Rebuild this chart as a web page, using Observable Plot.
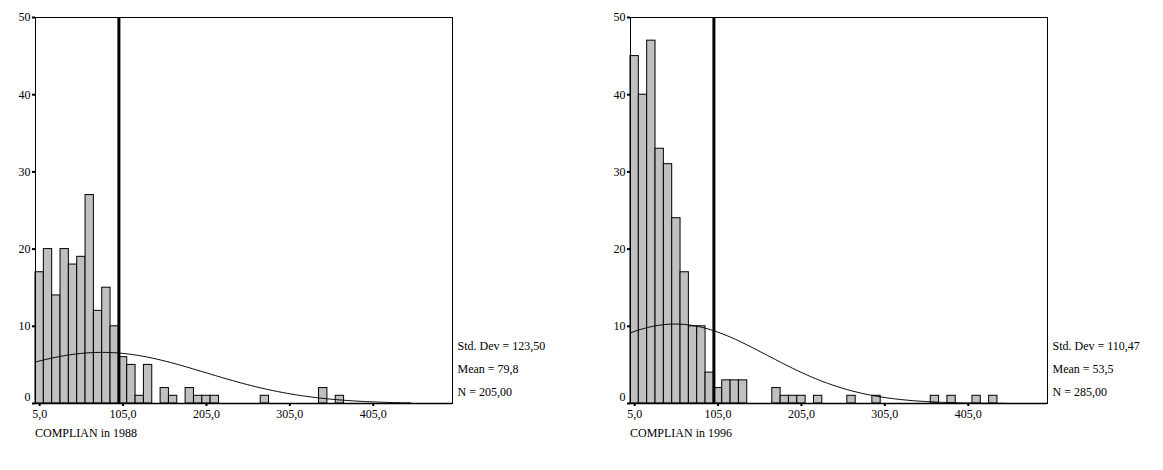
<!DOCTYPE html>
<html>
<head>
<meta charset="utf-8">
<script src="https://cdn.jsdelivr.net/npm/d3@7"></script>
<script src="https://cdn.jsdelivr.net/npm/@observablehq/plot@0.6"></script>
<style>
  body { margin: 0; background: #fff; font-family: "Liberation Serif", "DejaVu Serif", serif; }
  #wrap { position: relative; width: 1163px; height: 470px; display: flex; }
  .panel { position: relative; }
  .panel svg { display: block; }
  .caption { position: absolute; top: 426px; font-size: 12px; color: #000; white-space: nowrap; }
</style>
</head>
<body>
<div id="wrap"></div>
<script>
// Bin width and histogram bins (bin start values) with their counts
const binWidth = 10;

const bins1988 = [0, 10, 20, 30, 40, 50, 60, 70, 80, 90, 100, 110, 120, 130, 150, 160, 180, 190, 200, 210, 270, 340, 360];
const counts1988 = [17, 20, 14, 20, 18, 19, 27, 12, 15, 10, 6, 5, 1, 5, 2, 1, 2, 1, 1, 1, 1, 2, 1];

const bins1996 = [0, 10, 20, 30, 40, 50, 60, 70, 80, 90, 100, 110, 120, 130, 170, 180, 190, 200, 220, 260, 290, 360, 380, 410, 430];
const counts1996 = [45, 40, 47, 33, 31, 24, 17, 10, 10, 4, 2, 3, 3, 3, 2, 1, 1, 1, 1, 1, 1, 1, 1, 1, 1];

// Summary statistics printed beside each histogram
const stats1988 = { sd: 123.50, mean: 79.8, n: 205 };
const stats1996 = { sd: 110.47, mean: 53.5, n: 285 };

// Axis ticks, reference line and titles
const xTicks = [5, 105, 205, 305, 405];
const yTicks = [0, 10, 20, 30, 40, 50];
const xDomain = [0, 500];
const yDomain = [0, 50];
const refLine = [100];
const curveRange = [0, 450];
const titles = ["COMPLIAN in 1988", "COMPLIAN in 1996"];

const comma = (v, d) => v.toFixed(d).replace(".", ",");
const serif = "'Liberation Serif', 'DejaVu Serif', serif";

// Fitted normal curve scaled to counts per bin
function normalCurve(s) {
  const pts = [];
  for (let x = curveRange[0]; x <= curveRange[1]; x += 2) {
    const z = (x - s.mean) / s.sd;
    pts.push({ x, y: s.n * binWidth / (s.sd * Math.sqrt(2 * Math.PI)) * Math.exp(-0.5 * z * z) });
  }
  return pts;
}

function histogram(bins, counts, s, opts) {
  const rows = bins.map((b, i) => ({ start: b, count: counts[i] }));
  const statText = `Std. Dev = ${comma(s.sd, 2)}\nMean = ${comma(s.mean, 1)}\nN = ${comma(s.n, 2)}`;
  return Plot.plot({
    width: opts.width,
    height: 424,
    marginLeft: opts.marginLeft,
    marginRight: opts.width - opts.marginLeft - 417,
    marginTop: 17,
    marginBottom: 21,
    style: { fontFamily: serif, fontSize: "12px", color: "#000", background: "#fff" },
    x: { domain: xDomain },
    y: { domain: yDomain },
    marks: [
      Plot.rectY(rows, { x1: "start", x2: d => d.start + binWidth, y: "count", fill: "#c0c0c0", stroke: "#000", strokeWidth: 1 }),
      Plot.line(normalCurve(s), { x: "x", y: "y", stroke: "#000", strokeWidth: 1 }),
      Plot.ruleX(refLine, { stroke: "#000", strokeWidth: 3 }),
      Plot.frame({ stroke: "#000", strokeWidth: 1 }),
      Plot.ruleY([0], { stroke: "#000", strokeWidth: 1.5 }),
      Plot.axisX({ ticks: xTicks, tickFormat: d => comma(d, 1), tickSize: 3, tickPadding: 3, strokeWidth: 2, fontSize: 12, fontFamily: serif, label: null }),
      Plot.axisY({ ticks: yTicks, tickFormat: d => d === 0 ? "" : String(d), tickSize: 3, tickPadding: 2, strokeWidth: 2, fontSize: 12, fontFamily: serif, label: null }),
      Plot.text(yTicks.filter(d => d === 0), { y: d => d, text: d => String(d), frameAnchor: "left", textAnchor: "end", dx: -5, dy: -6, fontSize: 12, fontFamily: serif }),
      Plot.text([statText], { frameAnchor: "bottom-right", textAnchor: "start", lineAnchor: "bottom", dx: 5, dy: -8, lineHeight: 1.9, fontSize: 12, fontFamily: serif })
    ]
  });
}

const wrap = document.getElementById("wrap");
const panels = [
  { bins: bins1988, counts: counts1988, stats: stats1988, width: 582, marginLeft: 35, title: titles[0] },
  { bins: bins1996, counts: counts1996, stats: stats1996, width: 581, marginLeft: 48, title: titles[1] }
];
for (const p of panels) {
  const div = document.createElement("div");
  div.className = "panel";
  div.style.width = p.width + "px";
  div.appendChild(histogram(p.bins, p.counts, p.stats, p));
  const cap = document.createElement("div");
  cap.className = "caption";
  cap.style.left = p.marginLeft + "px";
  cap.textContent = p.title;
  div.appendChild(cap);
  wrap.appendChild(div);
}
</script>
</body>
</html>
